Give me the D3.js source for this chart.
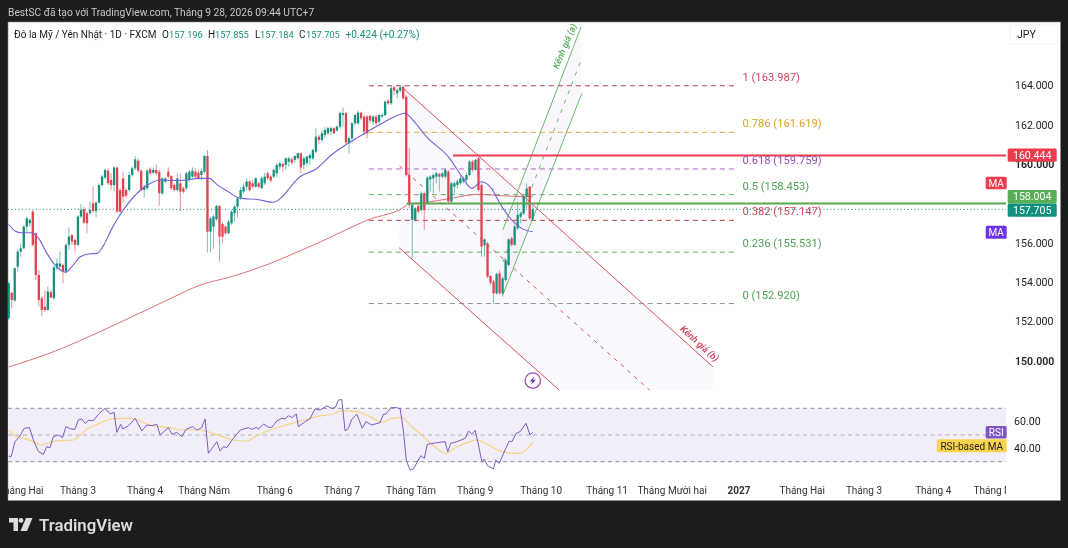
<!DOCTYPE html>
<html>
<head>
<meta charset="utf-8">
<script src="https://cdn.jsdelivr.net/npm/d3@7/dist/d3.min.js"></script>
<style>
  html, body { margin: 0; padding: 0; background: #1c1c1c; }
  svg { display: block; font-family: Roboto, Inter, sans-serif; filter: blur(0.3px); }
</style>
</head>
<body>
<svg id="chart" width="1068" height="548"></svg>
<script>
// daily candles
const opens = [152.17,153.47,153.07,154.79,155.56,155.73,156.83,157.00,157.59,156.49,154.37,153.19,152.76,152.59,153.49,153.19,154.71,154.79,154.88,154.54,155.90,156.40,156.15,155.90,157.34,157.71,157.51,157.51,158.01,157.62,158.05,158.94,159.32,159.67,159.20,158.94,159.83,158.69,159.28,158.69,158.69,159.45,159.79,160.18,159.67,158.69,158.78,159.74,159.57,159.71,159.62,158.52,159.11,159.62,159.40,158.95,158.69,159.03,158.78,158.78,159.20,159.37,159.62,159.57,159.45,159.62,160.42,156.57,156.83,157.20,157.88,156.96,156.83,156.49,157.00,157.51,157.84,158.27,158.61,158.86,159.12,159.03,158.86,159.03,158.78,159.03,159.54,159.37,159.37,159.54,159.88,160.01,159.96,160.13,160.25,160.22,160.30,160.56,159.96,160.05,160.30,160.30,160.64,161.40,161.23,161.49,161.57,161.66,161.83,161.71,161.91,162.50,162.59,161.06,161.32,162.08,162.08,162.62,162.42,162.42,162.45,162.16,162.42,162.16,162.42,162.50,163.23,163.10,163.91,163.60,163.74,163.94,163.43,159.45,157.17,157.17,157.88,157.67,158.52,158.05,159.23,159.28,159.37,159.50,159.37,159.37,159.62,158.10,158.86,158.95,159.03,159.12,159.20,159.45,160.13,159.71,160.30,158.95,155.88,155.98,154.32,154.03,153.44,154.46,153.44,154.12,154.88,156.23,155.90,156.74,157.33,157.50,158.35,158.86,157.196];
const highs = [154.03,153.52,154.76,155.68,155.98,156.91,157.34,157.25,157.67,156.52,154.63,153.27,153.60,153.78,153.61,154.85,155.22,155.56,154.96,155.98,156.79,156.46,156.24,157.42,157.98,157.84,157.59,158.10,158.89,158.10,159.03,159.45,159.76,159.79,159.54,159.88,159.88,158.78,159.62,158.78,159.62,159.91,160.42,160.30,159.74,158.95,159.74,159.84,159.84,160.00,159.71,159.32,159.33,159.84,159.45,159.03,159.54,159.54,158.86,159.62,159.71,159.84,159.79,159.71,159.79,160.47,160.72,157.34,157.42,157.93,157.93,157.03,156.91,157.17,157.68,157.93,158.35,158.83,159.03,159.29,159.20,159.20,159.34,159.12,159.37,159.57,159.62,159.45,159.79,160.05,160.13,160.08,160.35,160.39,160.35,160.47,160.59,160.59,160.39,160.42,160.56,160.81,161.83,161.49,161.74,161.88,161.91,161.91,161.88,161.99,162.67,162.88,162.67,161.40,162.16,162.57,162.72,162.67,162.50,162.50,162.50,162.50,162.50,162.55,162.59,163.27,163.30,163.99,163.98,163.86,163.98,163.99,163.52,160.81,158.01,157.84,157.98,158.61,158.61,159.40,159.45,159.54,159.62,159.57,159.62,159.79,159.71,159.12,159.12,159.20,159.45,159.37,159.54,160.22,160.22,160.27,160.38,159.03,156.23,156.07,154.37,154.12,154.49,154.63,154.29,155.22,156.23,156.32,156.91,158.10,157.59,158.44,159.03,158.89,157.855];
const lows = [152.08,152.68,153.02,154.54,155.30,155.68,156.57,156.83,155.81,154.12,152.76,152.29,152.49,152.56,153.19,153.14,154.63,154.60,153.95,154.49,155.64,155.90,155.51,155.85,157.25,156.96,156.49,157.42,157.54,157.30,158.01,158.86,159.23,158.94,158.69,158.61,157.51,157.51,158.01,158.27,158.61,159.37,159.71,159.57,158.61,158.30,158.69,159.45,159.50,159.45,157.88,158.44,159.03,159.28,158.69,158.61,158.61,157.62,158.52,158.69,159.11,159.28,159.28,159.20,159.20,159.54,155.51,155.51,155.73,157.13,155.05,156.02,156.41,156.44,156.91,157.08,157.29,158.18,158.52,158.66,158.61,158.78,158.78,158.78,158.73,158.95,159.20,159.07,159.29,159.37,159.71,159.62,159.71,159.88,159.96,160.08,160.22,159.54,159.74,159.88,159.96,160.22,160.56,161.03,161.15,161.32,161.49,161.49,161.54,161.66,161.83,161.91,160.98,160.52,161.23,161.95,161.99,162.25,161.49,161.32,162.11,161.99,161.99,162.08,162.33,162.45,163.01,163.01,163.52,163.35,163.64,163.27,159.37,157.76,155.22,157.08,157.50,157.59,156.66,157.98,158.61,158.52,159.03,158.61,159.28,159.28,158.05,158.05,158.52,158.77,158.95,159.03,159.12,159.40,159.62,159.66,158.61,155.30,155.30,154.20,153.86,152.90,153.36,153.36,153.27,154.03,154.80,155.81,155.85,156.66,157.00,157.42,157.76,157.17,157.184];
const closes = [153.95,153.10,154.71,155.56,155.73,156.83,157.25,157.17,155.90,154.37,153.10,152.59,152.59,153.53,153.22,154.76,154.96,154.96,154.54,155.90,156.32,156.07,155.90,157.34,157.67,157.03,157.00,157.67,157.62,158.05,158.94,159.37,159.71,159.03,158.94,159.83,157.59,157.59,158.35,158.40,159.45,159.79,160.25,159.67,158.69,158.86,159.67,159.54,159.71,159.54,158.52,159.28,159.28,159.37,158.78,158.69,159.28,158.61,158.61,159.54,159.62,159.67,159.37,159.28,159.66,160.42,156.57,157.25,157.34,157.88,156.32,156.32,156.49,157.08,157.59,157.84,158.27,158.69,158.86,159.12,158.69,158.86,159.29,158.86,159.29,159.37,159.29,159.17,159.71,159.96,160.05,159.88,160.30,160.30,160.08,160.42,160.56,159.84,160.30,160.39,160.47,160.72,161.40,161.23,161.57,161.74,161.83,161.83,161.57,161.91,162.59,162.59,161.10,161.32,162.08,162.50,162.62,162.33,161.66,161.57,162.22,162.42,162.08,162.50,162.50,163.18,163.10,163.86,163.74,163.77,163.91,163.35,159.45,157.93,157.93,157.76,157.59,158.52,157.67,159.32,159.37,159.45,159.54,159.37,159.54,159.71,158.10,159.03,159.03,159.12,159.28,159.28,159.45,160.13,159.71,160.22,158.69,155.81,156.18,154.29,153.98,153.44,154.42,153.44,154.20,155.13,156.18,155.90,156.83,157.42,157.50,158.35,158.77,157.25,157.705];

// moving average of price, sampled along the curve
const maBars = [0,2.1,4.3,7.8,9.9,12.7,15.4,18.8,21,23.8,26.6,29.3,31.6,34.3,36.6,39.3,43.8,47.1,49.9,54.9,59.3,62.7,66.6,69.3,73.8,75.4,78.2,82.1,87.7,97.1,102.1,107.1,112.7,118.2,124.9,131.8,133.7,138.7,146.4,150.9,153.7,157,160.3,163.1,167,170.3,174];
const maValues = [156.95,156.61,156.52,156.52,156.24,155.47,154.88,154.51,154.80,155.30,155.44,155.47,155.90,156.74,157.34,157.93,158.69,159.03,159.20,159.17,159.20,159.28,159.28,158.95,158.52,158.35,158.25,158.22,158.07,159.40,159.76,160.47,161.06,161.57,162.16,162.59,162.33,161.40,160.30,159.28,158.77,159.11,158.77,158.01,157.17,156.74,156.57];
const longMaBars = [0,13.8,31.6,52.7,63.8,73.8,81,102.7,119.3,132,132.6,138,147,156,163.7,171.7,174];
const longMaValues = [149.70,150.41,151.58,153.10,153.87,154.28,154.63,156.00,157.17,157.90,157.98,158.05,158.27,158.47,158.40,158.35,158.35];

const rsiBars = [0,0.8,2.1,3.8,5.1,6.9,8.2,9.9,11.5,12.6,13.7,14.8,16.5,17.9,19,20.7,22,23.1,24.3,25.4,26.5,28.1,29.8,32,33.7,35,35.9,37.2,37.9,39.8,42,44.2,45.8,47.5,49.2,50.3,53,54.2,55.8,57.5,58.9,61.1,62.5,64.1,65.2,66.3,69.1,70.2,71.3,72.4,74.6,76.9,79.6,80.7,82.4,82.9,84.6,86.3,87.4,89,90.7,91.8,92.9,94,95.5,96.2,98.4,100,101.7,103.4,105.6,107.3,108.4,109.5,110.6,111.7,112.8,113.9,115.6,117.4,118.6,120.5,123.3,124.4,125.3,126.9,128.9,130,131.1,132,133.3,134.4,136.8,138,139,142.1,144.9,145.8,146.8,148.8,151.6,152.7,153.8,154.9,156,157.1,157.9,159,161,161.7,162.9,164.8,166.2,167.1,168.5,169.8,171.8,173.1,174];
const rsiValues = [34.25,33.75,45,49.5,55,55.5,46.25,37.5,35.5,41.25,40.5,48.75,50,48,56.25,54.5,54.25,61.25,62,58.75,61,60.75,65.5,70,65.75,67,52,58,54.5,57,62.5,53,57.5,57,58,50,55.5,50.5,52,48.75,54.25,56.25,53.75,55.5,62,36.25,45,38,41.25,40.5,47.5,53.75,55.5,54.25,55.75,54.25,58.25,55.75,55.75,60.5,62.5,62,64.5,63,65.75,56.25,60,62,69.5,68.75,71.75,70,70.5,76.25,76.5,53,55,61.75,65.5,55,60,57.5,59.25,65.5,65.75,70.5,70.5,69.5,52.5,31.25,23.75,24.5,34.5,32.5,43,44.25,45,37.5,43.75,45,47.5,53,50.5,53.5,42.5,30,32,27,24.5,31.25,28.75,38.75,45.5,45,51.25,52.5,58.75,50,52];
const rsiMaBars = [0,2.1,4.9,8.2,11,13.7,16.5,21.5,23.7,26.5,30.3,33.7,38.1,42,45.8,50.3,53.6,57.5,62.5,65.2,70.2,74.6,79.1,82.4,86.8,91.3,96.2,102.3,108.4,110.6,115.6,120,123.9,127.2,130.5,133.3,137.7,142.1,144.9,148.8,152.1,155.4,159.3,163.7,167.6,169.8,174];
const rsiMaValues = [53.75,49.5,47.5,45,42.5,44.5,45.75,46.25,50,55,58.75,62,62.5,62,58.25,56.25,55.5,53.75,53.75,53,49.5,46.25,45.5,49.5,53.75,57,60,63.75,66.25,68.25,67.5,63.75,59.5,62.5,63.25,57.5,48.75,40,36.25,41.25,44.25,46.25,42.5,37.5,36.25,36.25,44.25];

const priceTicks = [164, 162, 160, 156, 154, 152, 150];
const rsiTicks = [60, 40];
const rsiBands = [70, 50, 30];
const monthLabels = ['Tháng Hai','Tháng 3','Tháng 4','Tháng Năm','Tháng 6','Tháng 7','Tháng Tám','Tháng 9','Tháng 10','Tháng 11','Tháng Mười hai','2027','Tháng Hai','Tháng 3','Tháng 4','Tháng Năm'];
const monthBars = [4,23,45.3,64.9,88.4,110.7,133.6,154.9,176.8,198.7,220.3,242.5,263.5,284,307,329];

// fibonacci retracement
const fibRatios = ['1','0.786','0.618','0.5','0.382','0.236','0'];
const fibPrices = [163.987,161.619,159.759,158.453,157.147,155.531,152.920];
const fibColors = ['#a8405f','#e9a93a','#b061c4','#5fae66','#c23a4a','#5fae66','#8a9a8a'];
const fibLabelColors = ['#d0455c','#d9a127','#9c4fb8','#4fa257','#d0455c','#4fa257','#4fa257'];
const fibBars = [119.6, 241.5];

// drawn channels, [bar, price]
const redChannelTop = [[130.6,163.92],[233.9,149.70]];
const redChannelMid = [[129.8,159.91],[233.9,145.63]];
const redChannelLow = [[129.6,155.76],[233.9,141.57]];
const greenChannelTop = [[164.1,156.67],[190.1,166.99]];
const greenChannelMid = [[164.1,155.03],[190.1,165.30]];
const greenChannelLow = [[164.1,153.36],[190.3,163.60]];

const resistance = 160.444;
const support = 158.004;
const lastClose = 157.705;

const svg = d3.select('#chart');
const defs = svg.append('defs');
const clip = (id, x, y, w, h) => defs.append('clipPath').attr('id', id)
  .append('rect').attr('x', x).attr('y', y).attr('width', w).attr('height', h);
clip('price-clip', 8, 23, 998, 367);
clip('rsi-clip', 8, 395, 998, 90);
clip('time-clip', 8, 475, 998, 25);

const x = d3.scaleLinear().domain([0, opens.length - 1]).range([8.7, 532.7]);
const y = d3.scaleLinear().domain([150, 164]).range([361, 85.5]);
const yRsi = d3.scaleLinear().domain([30, 70]).range([461.7, 408.3]);

const up = '#17917c', down = '#e5404e';
const pt = d => [x(d[0]), y(d[1])];

// page frame
svg.append('rect').attr('width', 1068).attr('height', 548).attr('fill', '#1c1c1c');
svg.append('rect').attr('x', 8).attr('y', 22).attr('width', 1052.5).attr('height', 478.5)
  .attr('fill', '#fff').attr('stroke', '#8a8a8a').attr('stroke-width', 0.6);
svg.append('text').attr('x', 8).attr('y', 16).attr('fill', '#c8c8c8').attr('font-size', 10.25)
  .text('BestSC đã tạo với TradingView.com, Tháng 9 28, 2026 09:44 UTC+7');

// legend row
const legendY = 37.5;
const legendText = (px, t, color, size) => svg.append('text').attr('x', px).attr('y', legendY)
  .attr('font-size', size || 10).attr('fill', color).text(t);
legendText(14, 'Đô la Mỹ / Yên Nhật · 1D · FXCM', '#222');
[['O', '157.196', 162, 169], ['H', '157.855', 208, 215], ['L', '157.184', 255, 260], ['C', '157.705', 299, 306]].forEach(d => {
  legendText(d[2], d[0], '#222');
  legendText(d[3], d[1], '#17917c', 9.3);
});
legendText(345.5, '+0.424 (+0.27%)', '#17917c', 10.2);
svg.append('rect').attr('x', 1010).attr('y', 25).attr('width', 47).attr('height', 19)
  .attr('fill', '#fff').attr('stroke', '#f3f3f3');
svg.append('text').attr('x', 1017).attr('y', 38).attr('font-size', 10.6).attr('fill', '#222').text('JPY');

// price pane
const pane = svg.append('g').attr('clip-path', 'url(#price-clip)');
const line = d3.line();

const polyFill = (a, b, color) => pane.append('path')
  .attr('d', line([a[0], a[1], b[1], b[0]].map(pt)) + 'Z').attr('fill', color);
polyFill(redChannelTop, redChannelLow, 'rgba(103,58,183,0.03)');
polyFill(greenChannelTop, greenChannelLow, 'rgba(103,58,183,0.035)');

fibPrices.forEach((p, i) => {
  pane.append('line').attr('x1', x(fibBars[0])).attr('x2', x(fibBars[1]))
    .attr('y1', y(p)).attr('y2', y(p))
    .attr('stroke', fibColors[i]).attr('stroke-width', 1).attr('stroke-dasharray', '5 4');
  svg.append('text').attr('x', x(fibBars[1]) + 6.5).attr('y', y(p) - 5)
    .attr('font-size', 11.2).attr('fill', fibLabelColors[i])
    .text(`${fibRatios[i]} (${p.toFixed(3)})`);
});

const seg = (d, color, dash) => pane.append('path').attr('d', line(d.map(pt)))
  .attr('fill', 'none').attr('stroke', color).attr('stroke-width', 1).attr('stroke-dasharray', dash || null);
seg(redChannelTop, '#d9535f');
seg(redChannelLow, '#d9535f');
seg(redChannelMid, '#d9535f', '4 5');
seg(greenChannelTop, '#6fb56f');
seg(greenChannelLow, '#6fb56f');
seg(greenChannelMid, '#6fb56f', '4 6');

// price line of the last close
pane.append('line').attr('x1', 8).attr('x2', 1006).attr('y1', y(lastClose)).attr('y2', y(lastClose))
  .attr('stroke', '#159484').attr('stroke-width', 1).attr('stroke-dasharray', '1 2.5');

// moving averages
pane.append('path').attr('fill', 'none').attr('stroke', '#dd7078').attr('stroke-width', 1)
  .attr('d', d3.line().x(d => x(d)).y((d, i) => y(longMaValues[i])).curve(d3.curveMonotoneX)(longMaBars));

// candles
const candles = pane.append('g').selectAll('g').data(opens).join('g');
candles.append('line')
  .attr('x1', (d, i) => x(i)).attr('x2', (d, i) => x(i))
  .attr('y1', (d, i) => y(highs[i])).attr('y2', (d, i) => y(lows[i]))
  .attr('stroke', (d, i) => closes[i] >= d ? up : down).attr('stroke-opacity', 0.65).attr('stroke-width', 0.9);
candles.append('rect')
  .attr('x', (d, i) => x(i) - 1.15).attr('width', 2.3)
  .attr('y', (d, i) => y(Math.max(d, closes[i])))
  .attr('height', (d, i) => Math.max(1, Math.abs(y(d) - y(closes[i]))))
  .attr('fill', (d, i) => closes[i] >= d ? up : down);

pane.append('path').attr('fill', 'none').attr('stroke', '#7660d6').attr('stroke-width', 1.1)
  .attr('d', d3.line().x(d => x(d)).y((d, i) => y(maValues[i])).curve(d3.curveMonotoneX)(maBars));

// key levels
pane.append('line').attr('x1', 453).attr('x2', 1006).attr('y1', y(resistance)).attr('y2', y(resistance))
  .attr('stroke', '#ea3d50').attr('stroke-width', 2);
pane.append('line').attr('x1', 406.7).attr('x2', 1006).attr('y1', y(support)).attr('y2', y(support))
  .attr('stroke', '#59a84f').attr('stroke-width', 2);

// channel names
const chLabel = (d, t, color, angle) => svg.append('text')
  .attr('transform', `translate(${d[0]},${d[1]}) rotate(${angle})`)
  .attr('text-anchor', 'middle').attr('font-size', 9.2).attr('font-weight', 600)
  .attr('font-style', 'italic').attr('fill', color).text(t);
chLabel([697.5, 346], 'Kênh giá (b)', '#d0455c', 42);
chLabel([567.5, 47.5], 'Kênh giá (a)', '#5fae66', -67);

// lightning marker
const bolt = svg.append('g').attr('transform', 'translate(532.8,380.6)');
bolt.append('circle').attr('r', 7.7).attr('fill', '#fff').attr('stroke', '#9c4fb8').attr('stroke-width', 1.3);
bolt.append('path').attr('d', 'M1.8,-4.2 L-3.2,0.8 L-0.5,0.8 L-2,4.2 L3.2,-0.9 L0.4,-0.9 Z').attr('fill', '#6a3aa8');

// price axis
const priceAxis = svg.append('g').attr('font-size', 10.6).attr('fill', '#222');
priceTicks.forEach(t => {
  priceAxis.append('text').attr('x', 1015).attr('y', y(t) + 3.8)
    .attr('font-weight', t === 160 || t === 150 ? 600 : 400).text(t.toFixed(3));
});

const tag = (x0, y0, w, h, color, t, fg, size) => {
  svg.append('rect').attr('x', x0).attr('y', y0).attr('width', w).attr('height', h).attr('rx', 1.5).attr('fill', color);
  svg.append('text').attr('x', x0 + w / 2).attr('y', y0 + h / 2 + 3.7).attr('text-anchor', 'middle')
    .attr('font-size', size || 10.6).attr('fill', fg || '#fff').text(t);
};
tag(1007.7, 148.5, 49, 13.2, '#ec3b4d', resistance.toFixed(3));
tag(1007.7, 190, 49, 13.4, '#56ae57', support.toFixed(3));
tag(1007.7, 203.6, 49, 13.2, '#11907d', lastClose.toFixed(3));
tag(985.7, 176.7, 21, 12.6, '#ec3b4d', 'MA', '#fff', 10);
tag(985.7, 225.7, 21, 13, '#6b34e6', 'MA', '#fff', 10);

// rsi pane
const rsi = svg.append('g').attr('clip-path', 'url(#rsi-clip)');
rsi.append('rect').attr('x', 8).attr('y', yRsi(70)).attr('width', 998).attr('height', yRsi(30) - yRsi(70))
  .attr('fill', '#f1eefa');
rsiBands.forEach(b => {
  rsi.append('line').attr('x1', 8).attr('x2', 1006).attr('y1', yRsi(b)).attr('y2', yRsi(b))
    .attr('stroke', b === 50 ? '#b0aebb' : '#8f8f96').attr('stroke-width', 1).attr('stroke-dasharray', '4 3.5');
});
const rsiCurve = d3.line().x(d => x(d)).y((d, i) => yRsi(rsiValues[i]));
rsi.append('path').attr('fill', 'none').attr('stroke', '#f5d382').attr('stroke-width', 1.2)
  .attr('d', d3.line().x(d => x(d)).y((d, i) => yRsi(rsiMaValues[i])).curve(d3.curveMonotoneX)(rsiMaBars));
rsi.append('path').attr('fill', 'none').attr('stroke', '#7e5bc2').attr('stroke-width', 1)
  .attr('d', rsiCurve(rsiBars));

rsiTicks.forEach(t => {
  svg.append('text').attr('x', 1014).attr('y', yRsi(t) + 3.8).attr('font-size', 10.6).attr('fill', '#222').text(t.toFixed(2));
});
tag(985.7, 426, 21, 12.4, '#7e57c2', 'RSI', '#fff', 10);
tag(936.7, 439.3, 70, 13, '#fbd34d', 'RSI-based MA', '#222', 10);

// time axis
svg.append('g').attr('clip-path', 'url(#time-clip)').selectAll('text').data(monthLabels).join('text')
  .attr('x', (d, i) => x(monthBars[i])).attr('y', 494).attr('text-anchor', 'middle')
  .attr('font-size', 10).attr('fill', '#333')
  .attr('font-weight', d => d === '2027' ? 700 : 400).text(d => d);

// watermark
const logo = svg.append('g').attr('transform', 'translate(9,518)').attr('fill', '#dcdcdc');
logo.append('path').attr('d', 'M0,0 H9 V13 H4.5 V4.5 H0 Z');
logo.append('circle').attr('cx', 12).attr('cy', 2.4).attr('r', 2.4);
logo.append('path').attr('d', 'M17,0 H23.5 L18,13 H11.5 Z');
svg.append('text').attr('x', 39).attr('y', 531).attr('font-size', 16.8).attr('font-weight', 600)
  .attr('fill', '#dcdcdc').text('TradingView');
</script>
</body>
</html>
